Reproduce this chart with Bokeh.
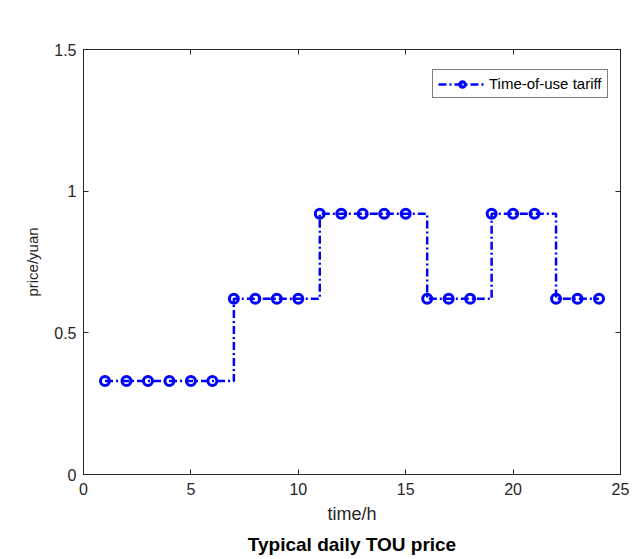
from bokeh.plotting import figure
from bokeh.models import Range1d, LinearAxis, Legend, LegendItem, Title, FixedTicker
from bokeh.embed import file_html
from bokeh.resources import INLINE

hours = list(range(1, 25))
price = [0.33]*6 + [0.62]*4 + [0.92]*5 + [0.62]*3 + [0.92]*3 + [0.62]*3
x_ticks = [0, 5, 10, 15, 20, 25]
y_ticks = [0, 0.5, 1, 1.5]

FONT = "Liberation Sans"
AX = "#262626"

p = figure(width=634, height=559, output_backend="svg", toolbar_location=None,
           x_range=Range1d(0, 25), y_range=Range1d(0, 1.5),
           min_border_left=83, min_border_right=14, min_border_top=49, min_border_bottom=85)
p.xgrid.visible = False
p.ygrid.visible = False
p.outline_line_color = AX
p.outline_line_width = 1

for ax in (p.xaxis[0], p.yaxis[0]):
    ax.major_tick_in = 5
    ax.major_tick_out = 0
    ax.minor_tick_line_color = None
    ax.axis_line_color = AX
    ax.major_tick_line_color = AX
    ax.major_label_text_font = FONT
    ax.major_label_text_font_size = "16px"
    ax.major_label_text_color = AX
    ax.axis_label_text_font = FONT
    ax.axis_label_text_font_style = "normal"
    ax.axis_label_text_color = AX

p.xaxis.ticker = FixedTicker(ticks=x_ticks)
p.yaxis.ticker = FixedTicker(ticks=y_ticks)
p.xaxis.axis_label = "time/h"
p.yaxis.axis_label = "price/yuan"
p.xaxis.axis_label_text_font_size = "18px"
p.yaxis.axis_label_text_font_size = "15px"
p.xaxis.major_label_standoff = 8
p.yaxis.major_label_standoff = 7
p.xaxis.axis_label_standoff = 6
p.yaxis.axis_label_standoff = 10

top = LinearAxis(ticker=FixedTicker(ticks=x_ticks), major_label_overrides={t: "" for t in x_ticks},
                 major_tick_in=5, major_tick_out=0, minor_tick_line_color=None,
                 axis_line_color=AX, major_tick_line_color=AX, major_label_standoff=0)
right = LinearAxis(ticker=FixedTicker(ticks=y_ticks), major_label_overrides={t: "" for t in y_ticks},
                   major_tick_in=5, major_tick_out=0, minor_tick_line_color=None,
                   axis_line_color=AX, major_tick_line_color=AX, major_label_standoff=0)
p.add_layout(top, "above")
p.add_layout(right, "right")

st = p.step(hours, price, mode="after", line_color="#0000FF", line_width=2.5, line_dash="8 3 2 3")
sc = p.scatter(hours, price, marker="circle", size=9, line_color="#0000FF", line_width=3,
               fill_color=None)

legend = Legend(items=[LegendItem(label="Time-of-use tariff", renderers=[st, sc])],
                location=(349, 376), label_text_font=FONT, label_text_font_size="15px",
                label_text_color="#000000", border_line_color="#000000", border_line_width=1,
                glyph_width=48, glyph_height=14, padding=5, spacing=0, label_standoff=3,
                margin=0, background_fill_alpha=1)
p.add_layout(legend, "center")

t = Title(text="Typical daily TOU price", align="center", text_font=FONT,
          text_font_size="19px", text_font_style="bold", text_color="#000000", standoff=10)
p.add_layout(t, "below")

open("out.html", "w").write(file_html(p, INLINE))
